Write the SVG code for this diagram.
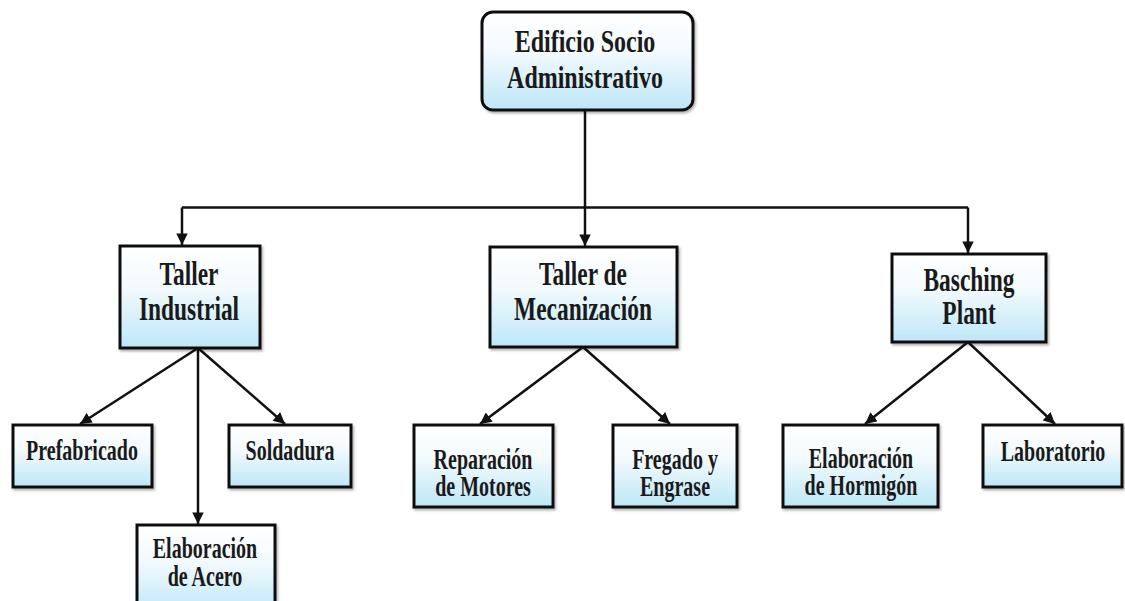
<svg xmlns="http://www.w3.org/2000/svg" width="1125" height="601" viewBox="0 0 1125 601">
<style>
.box{fill:url(#g);stroke:#111;stroke-width:3;filter:url(#sh)}
.t{font-family:"Liberation Serif","Times New Roman",serif;font-weight:bold;fill:#1a1a1a;text-anchor:middle}
.L{font-size:32px}.M{font-size:33px}.S{font-size:29px}
.c{fill:none;stroke:#111;stroke-width:2.5}
</style>
<defs>
<linearGradient id="g" x1="0" y1="0" x2="0" y2="1">
<stop offset="0" stop-color="#ffffff"/>
<stop offset="0.4" stop-color="#f3fafd"/>
<stop offset="1" stop-color="#bde7f8"/>
</linearGradient>
<filter id="sh" x="-10%" y="-10%" width="125%" height="130%">
<feDropShadow dx="1.5" dy="2" stdDeviation="1.2" flood-color="#000" flood-opacity="0.3"/>
</filter>
<marker id="a" viewBox="0 0 10 10" refX="10" refY="5" markerWidth="4.8" markerHeight="4.6" orient="auto" markerUnits="strokeWidth">
<path d="M0,0 L10,5 L0,10 z" fill="#111"/>
</marker>
</defs>
<rect width="1125" height="601" fill="#ffffff"/>
<g id="connectors">
<path class="c" d="M585,110 V207.5 M182,207.5 H968"/>
<path class="c" d="M182,207.5 V245" marker-end="url(#a)"/>
<path class="c" d="M585,207.5 V246" marker-end="url(#a)"/>
<path class="c" d="M968,207.5 V253" marker-end="url(#a)"/>
<path class="c" d="M198,348 L80,424" marker-end="url(#a)"/>
<path class="c" d="M198,348 L285,424" marker-end="url(#a)"/>
<path class="c" d="M198,348 V524" marker-end="url(#a)"/>
<path class="c" d="M583,347 L480,424" marker-end="url(#a)"/>
<path class="c" d="M583,347 L670,424" marker-end="url(#a)"/>
<path class="c" d="M968,342 L865,424" marker-end="url(#a)"/>
<path class="c" d="M968,342 L1055,424" marker-end="url(#a)"/>
</g>
<g id="n-edificio">
<rect class="box" x="482" y="12" width="211" height="98" rx="11"/>
<text class="t L" transform="matrix(0.75 0 0 1 585 52)">Edificio Socio</text>
<text class="t L" transform="matrix(0.75 0 0 1 585 88)">Administrativo</text>
</g>
<g id="n-taller-industrial">
<rect class="box" x="120" y="246" width="140" height="102"/>
<text class="t M" transform="matrix(0.71 0 0 1 189 285)">Taller</text>
<text class="t M" transform="matrix(0.71 0 0 1 189 320)">Industrial</text>
</g>
<g id="n-mecanizacion">
<rect class="box" x="490" y="247" width="187" height="100"/>
<text class="t M" transform="matrix(0.71 0 0 1 583 285)">Taller de</text>
<text class="t M" transform="matrix(0.71 0 0 1 583 320)">Mecanización</text>
</g>
<g id="n-basching">
<rect class="box" x="892" y="254" width="154" height="88"/>
<text class="t M" transform="matrix(0.71 0 0 1 969 291)">Basching</text>
<text class="t M" transform="matrix(0.71 0 0 1 969 324)">Plant</text>
</g>
<g id="n-prefabricado">
<rect class="box" x="13" y="425" width="139" height="62"/>
<text class="t S" transform="matrix(0.69 0 0 1 82 460)">Prefabricado</text>
</g>
<g id="n-soldadura">
<rect class="box" x="229" y="425" width="122" height="62"/>
<text class="t S" transform="matrix(0.69 0 0 1 290 460)">Soldadura</text>
</g>
<g id="n-acero">
<rect class="box" x="137" y="525" width="138" height="90"/>
<text class="t S" transform="matrix(0.69 0 0 1 205 558)">Elaboración</text>
<text class="t S" transform="matrix(0.69 0 0 1 205 586)">de Acero</text>
</g>
<g id="n-reparacion">
<rect class="box" x="414" y="425" width="139" height="82"/>
<text class="t S" transform="matrix(0.69 0 0 1 483 469)">Reparación</text>
<text class="t S" transform="matrix(0.69 0 0 1 483 496)">de Motores</text>
</g>
<g id="n-fregado">
<rect class="box" x="613" y="425" width="124" height="82"/>
<text class="t S" transform="matrix(0.69 0 0 1 675 469)">Fregado y</text>
<text class="t S" transform="matrix(0.69 0 0 1 675 496)">Engrase</text>
</g>
<g id="n-hormigon">
<rect class="box" x="783" y="425" width="155" height="82"/>
<text class="t S" transform="matrix(0.69 0 0 1 861 468)">Elaboración</text>
<text class="t S" transform="matrix(0.69 0 0 1 861 495)">de Hormigón</text>
</g>
<g id="n-laboratorio">
<rect class="box" x="983" y="425" width="139" height="62"/>
<text class="t S" transform="matrix(0.69 0 0 1 1053 461)">Laboratorio</text>
</g>
</svg>
